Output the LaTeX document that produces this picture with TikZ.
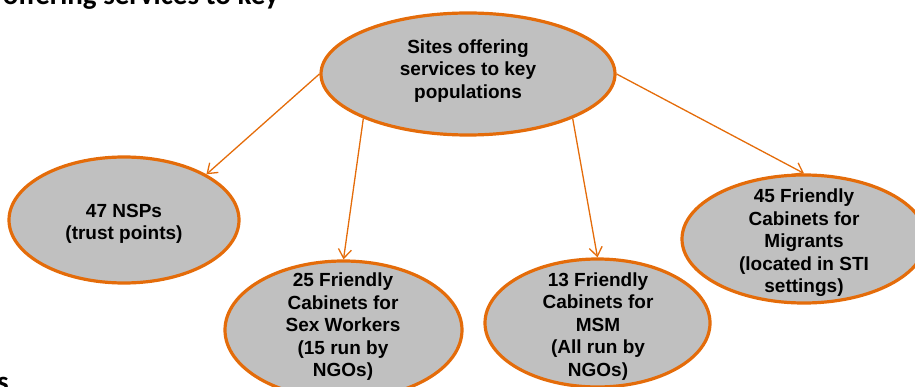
\documentclass[tikz,border=0pt]{standalone}
\usepackage{fontspec}
\setmainfont{Liberation Sans}
\newfontfamily\calibrifont{Carlito}
\usetikzlibrary{shapes.geometric,arrows.meta}
\definecolor{kporange}{HTML}{E46C0A}
\definecolor{kpgray}{HTML}{C0C0C0}
\tikzset{
  site/.style={ellipse,draw=kporange,fill=kpgray,line width=3.2pt,inner sep=0pt},
  sitetext/.style={align=center,inner sep=0pt,font=\fontsize{19}{22.5}\selectfont\bfseries},
  headtext/.style={inner sep=0pt,font=\calibrifont\fontsize{29}{34}\selectfont\bfseries},
  link/.style={draw=kporange,line width=1.3pt,-{Straight Barb[length=9pt,width=13pt]}}
}
\begin{document}
\begin{tikzpicture}[x=1pt,y=-1pt]
	\path[use as bounding box,clip] (0,0) rectangle (915,387);
	% cut off heading and footer
	\node[headtext,anchor=base east] (head) at (279,5) {offering services to key};
	\node[headtext,anchor=base east] (tail) at (9,391.5) {s};
	% ellipses
	\node[site,minimum width=294pt,minimum height=122pt] (sites) at (468,74) {};
	\node[site,minimum width=230pt,minimum height=126pt] (nsp) at (124,220) {};
	\node[site,minimum width=237pt,minimum height=138pt] (sw) at (343.5,330) {};
	\node[site,minimum width=225pt,minimum height=128pt] (msm) at (597.5,323) {};
	\node[site,minimum width=244pt,minimum height=128pt] (mig) at (804,239) {};
	% texts
	\node[sitetext] (sitesT) at (468,71) {Sites offering\\services to key\\populations};
	\node[sitetext] (nspT) at (124,224) {47 NSPs\\(trust points)};
	\node[sitetext] (swT) at (343,327) {25 Friendly\\Cabinets for\\Sex Workers\\(15 run by\\NGOs)};
	\node[sitetext] (msmT) at (598,326.5) {13 Friendly\\Cabinets for\\MSM\\(All run by\\NGOs)};
	\node[sitetext] (migT) at (804,243) {45 Friendly\\Cabinets for\\Migrants\\(located in STI\\settings)};
	% links
	\draw[link] (sites.180) -- (nsp.29);
	\draw[link] (sites.203) -- (sw.90);
	\draw[link] (sites.337) -- (msm.90);
	\draw[link] (sites.0) -- (mig.90);
\end{tikzpicture}
\end{document}
